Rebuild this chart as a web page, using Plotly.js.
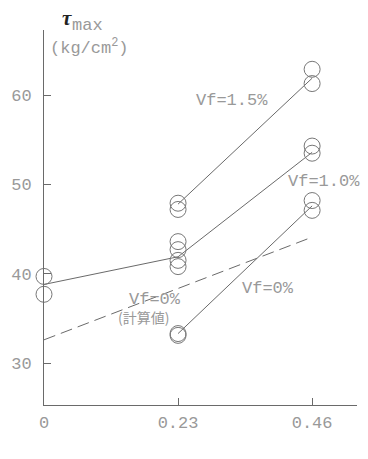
<!DOCTYPE html>
<html>
<head>
<meta charset="utf-8">
<script src="https://cdn.plot.ly/plotly-3.0.1.min.js"></script>
<style>html,body{margin:0;padding:0;background:#fff;}#chart{width:368px;height:459px;}</style>
</head>
<body>
<div id="chart"></div>
<script>
// pw (%) tick positions and labels
const xTicks = [0, 0.23, 0.46];
const xTickText = ["0", "0.23", "0.46"];
const yTicks = [30, 40, 50, 60];

// measured tau max (kg/cm2) — open circles
const vf15X = [0.23, 0.23, 0.46, 0.46];
const vf15Y = [47.9, 47.2, 62.9, 61.3];
const vf10X = [0, 0, 0.23, 0.23, 0.23, 0.23, 0.46, 0.46];
const vf10Y = [39.7, 37.7, 43.6, 42.7, 41.5, 40.8, 54.3, 53.5];
const vf0X = [0.23, 0.23, 0.46, 0.46];
const vf0Y = [33.3, 33.1, 48.2, 47.1];

// mean lines
const lineVf15X = [0.23, 0.46];
const lineVf15Y = [47.8, 61.9];
const lineVf10X = [0, 0.23, 0.46];
const lineVf10Y = [38.8, 41.9, 53.6];
const lineVf0X = [0.23, 0.46];
const lineVf0Y = [33.3, 47.6];
// calculated (Vf=0%)
const calcX = [0, 0.46];
const calcY = [32.6, 44.1];

const FONT = "Liberation Mono, DejaVu Sans Mono, monospace";
const TXT = "#999";
const LINE = "#6a6a6a";

function lineTrace(x, y, dash) {
  return {x: x, y: y, type: "scatter", mode: "lines", hoverinfo: "skip",
    line: {color: LINE, width: 1, dash: dash || "solid"}, showlegend: false, cliponaxis: false};
}
function ptTrace(x, y) {
  return {x: x, y: y, type: "scatter", mode: "markers", hoverinfo: "skip",
    marker: {symbol: "circle-open", size: 16, color: "#777", line: {color: "#777", width: 1}},
    showlegend: false, cliponaxis: false};
}

const data = [
  lineTrace(calcX, calcY, "12px,6px"),
  lineTrace(lineVf10X, lineVf10Y),
  lineTrace(lineVf15X, lineVf15Y),
  lineTrace(lineVf0X, lineVf0Y),
  ptTrace(vf15X, vf15Y),
  ptTrace(vf10X, vf10Y),
  ptTrace(vf0X, vf0Y)
];

function ann(text, x, y, opts) {
  return Object.assign({text: text, x: x, y: y, xref: "x", yref: "y", showarrow: false,
    font: {family: FONT, size: 17, color: TXT}}, opts || {});
}

const layout = {
  width: 368, height: 459,
  margin: {l: 44, r: 11, t: 30, b: 54},
  paper_bgcolor: "#fff", plot_bgcolor: "#fff",
  showlegend: false,
  xaxis: {range: [0, 0.537], showgrid: false, zeroline: false, showline: true,
    linecolor: LINE, linewidth: 1, ticks: "inside", ticklen: 7, tickcolor: LINE,
    tickvals: xTicks, ticktext: xTickText, ticklabelstandoff: 2,
    tickfont: {family: FONT, size: 17, color: TXT}},
  yaxis: {range: [25.3, 67.3], showgrid: false, zeroline: false, showline: true,
    linecolor: LINE, linewidth: 1, ticks: "inside", ticklen: 7, tickcolor: LINE,
    tickvals: yTicks, ticklabelstandoff: 8,
    tickfont: {family: FONT, size: 17, color: TXT}},
  annotations: [
    ann("<b><i>τ</i></b>", 0.05, 1.068, {xref: "paper", yref: "paper",
      font: {family: "Liberation Serif, serif", size: 21, color: "#222"}}),
    ann("max", 0.082, 1.043, {xref: "paper", yref: "paper", xanchor: "left"}),
    ann("(kg/cm<sup>2</sup>)", 0.0069, 65.4, {xanchor: "left"}),
    ann("Vf=1.5%", 0.323, 59.4),
    ann("Vf=1.0%", 0.481, 50.3),
    ann("Vf=0%", 0.385, 38.4),
    ann("Vf=0%", 0.19, 37.1),
    ann("(計算値)", 0.170, 35.2, {font: {family: "Noto Sans CJK JP", size: 14, color: TXT}}),
    ann("pw (%)", 0.333, 20.5)
  ]
};

Plotly.newPlot("chart", data, layout, {staticPlot: true, displayModeBar: false});
</script>
</body>
</html>
